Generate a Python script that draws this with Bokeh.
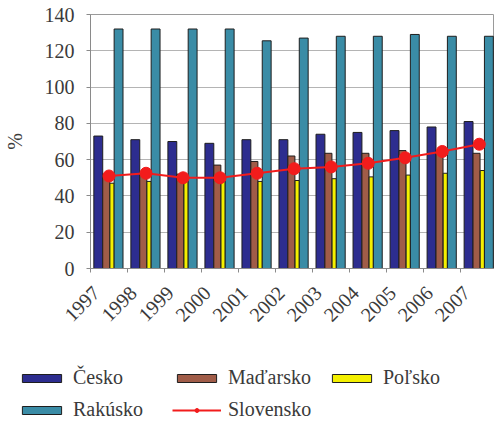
import math
from bokeh.plotting import figure
from bokeh.layouts import column
from bokeh.models import (ColumnDataSource, Range1d, FixedTicker, Legend, LegendItem)
from bokeh.transform import dodge
from bokeh.embed import file_html
from bokeh.resources import INLINE

years = ["1997", "1998", "1999", "2000", "2001", "2002", "2003", "2004", "2005", "2006", "2007"]
cesko = [73, 71, 70, 69, 71, 71, 74, 75, 76, 78, 81]
madarsko = [52, 52, 52, 57, 59, 62, 63.5, 63.5, 65, 65, 63.5]
polsko = [47, 48, 48, 48, 48, 48.5, 49.5, 50.5, 51.5, 52.5, 54]
rakusko = [132, 132, 132, 132, 125.5, 127, 128, 128, 129, 128, 128]
slovensko = [51, 52.5, 50, 50, 52.5, 55, 56, 58, 61, 64.5, 68.5]
y_ticks = [0, 20, 40, 60, 80, 100, 120, 140]

centers = [i + 0.5 for i in range(len(years))]
bounds = [i for i in range(len(years) + 1)]
label_pos = [c - 0.35 for c in centers]
src = ColumnDataSource(dict(x=centers, cesko=cesko, madarsko=madarsko, polsko=polsko,
                            rakusko=rakusko, slovensko=slovensko))

FONT = "Liberation Serif"
TXT = "#3a3a3a"
C_CZ, C_HU, C_PL, C_AT, C_SK = "#2d2d8f", "#a05c48", "#f4f000", "#3a8ca6", "#f21c1c"
OUT = "#1e1e1e"


def add_series(fig, visible=True):
    rs = [
        fig.vbar(x=dodge("x", -0.29, range=fig.x_range), top="cesko", width=0.24, source=src,
                 fill_color=C_CZ, line_color=OUT, line_width=1, visible=visible),
        fig.vbar(x=dodge("x", -0.075, range=fig.x_range), top="madarsko", width=0.19, source=src,
                 fill_color=C_HU, line_color=OUT, line_width=1, visible=visible),
        fig.vbar(x=dodge("x", 0.081, range=fig.x_range), top="polsko", width=0.114, source=src,
                 fill_color=C_PL, line_color=OUT, line_width=1, visible=visible),
        fig.vbar(x=dodge("x", 0.258, range=fig.x_range), top="rakusko", width=0.24, source=src,
                 fill_color=C_AT, line_color=OUT, line_width=1, visible=visible),
        fig.line(x="x", y="slovensko", source=src, line_color=C_SK, line_width=2,
                 visible=visible),
        fig.scatter(x="x", y="slovensko", source=src, size=12, fill_color=C_SK,
                    line_color=C_SK, visible=visible),
    ]
    return rs


p = figure(width=494, height=357, output_backend="svg", toolbar_location=None,
           x_range=Range1d(0, 10.91), y_range=Range1d(0, 140),
           min_border_left=84, min_border_right=0, min_border_top=14, min_border_bottom=89)
p.background_fill_color = "white"
p.border_fill_color = "white"
p.outline_line_color = "#9a9a9a"
add_series(p)

# y axis
p.yaxis.ticker = FixedTicker(ticks=y_ticks)
p.yaxis.axis_label = "%"
p.yaxis.axis_label_text_font = FONT
p.yaxis.axis_label_text_font_style = "normal"
p.yaxis.axis_label_text_font_size = "20px"
p.yaxis.axis_label_text_color = TXT
p.yaxis.axis_label_standoff = 16
p.yaxis.major_label_text_font = FONT
p.yaxis.major_label_text_font_size = "20px"
p.yaxis.major_label_text_color = TXT
p.yaxis.major_label_standoff = 12
p.yaxis.axis_line_color = "#8a8a8a"
p.yaxis.major_tick_line_color = "#8a8a8a"
p.yaxis.major_tick_out = 4
p.yaxis.major_tick_in = 0
p.yaxis.minor_tick_line_color = None

# x axis
p.xaxis.ticker = FixedTicker(ticks=label_pos, minor_ticks=bounds)
p.xaxis.major_label_overrides = {c: y for c, y in zip(label_pos, years)}
p.xaxis.major_label_orientation = math.pi / 4
p.xaxis.major_label_text_font = FONT
p.xaxis.major_label_text_font_size = "20px"
p.xaxis.major_label_text_color = TXT
p.xaxis.major_label_standoff = 15
p.xaxis.axis_line_color = "#8a8a8a"
p.xaxis.major_tick_line_color = None
p.xaxis.minor_tick_line_color = "#8a8a8a"
p.xaxis.minor_tick_out = 4
p.xaxis.minor_tick_in = 0

p.xgrid.grid_line_color = None
p.ygrid.grid_line_color = "#b4b4b4"
p.ygrid.grid_line_width = 1

# legend strip: same series, hidden (only their swatches are shown in the legend)
lf = figure(width=494, height=62, output_backend="svg", toolbar_location=None,
            x_range=Range1d(0, 1), y_range=Range1d(0, 1),
            x_axis_location=None, y_axis_location=None,
            min_border=0, min_border_left=0, min_border_right=0,
            min_border_top=0, min_border_bottom=0)
lf.grid.visible = False
lf.outline_line_color = None
lf.background_fill_color = "white"
for fig in (p, lf):
    if "frame_align" in fig.properties():
        fig.frame_align = False
l_c, l_m, l_p, l_r, l_sl, l_sd = add_series(lf, visible=False)

legend = Legend(items=[
    LegendItem(label="Česko", renderers=[l_c]),
    LegendItem(label="Rakúsko", renderers=[l_r]),
    LegendItem(label="Maďarsko", renderers=[l_m]),
    LegendItem(label="Slovensko", renderers=[l_sl, l_sd]),
    LegendItem(label="Poľsko", renderers=[l_p]),
], nrows=2, location=(17, -2), glyph_width=49, glyph_height=10,
    label_text_font=FONT, label_text_font_size="20px", label_text_color=TXT,
    label_standoff=7, label_width=90, label_height=22, spacing=9, padding=0, margin=0,
    border_line_color=None, background_fill_alpha=0,
    inactive_fill_alpha=0)
lf.add_layout(legend, "center")

layout = column(p, lf, spacing=0)
open("out.html", "w").write(file_html(layout, INLINE))
